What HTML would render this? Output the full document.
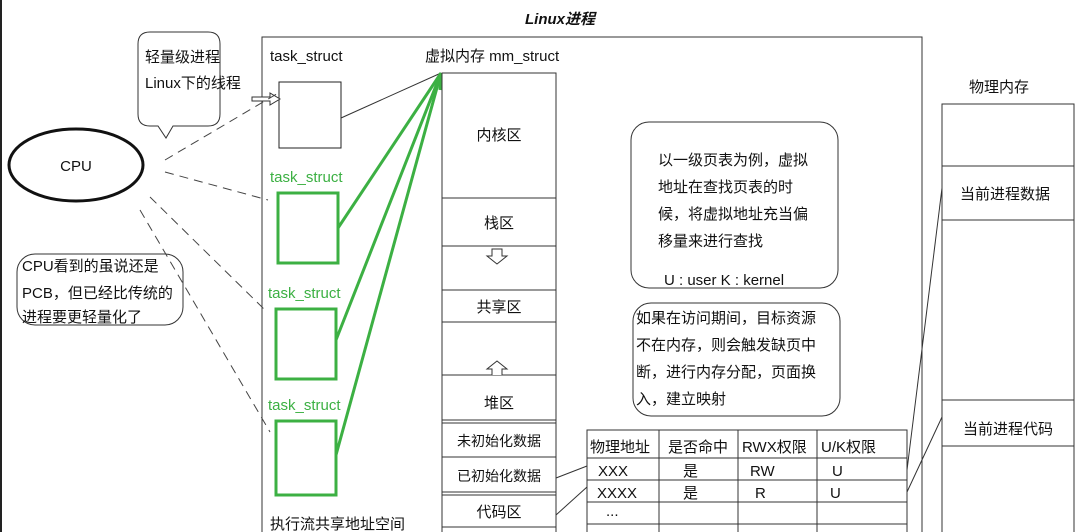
<!DOCTYPE html>
<html><head><meta charset="utf-8"><style>
html,body{margin:0;padding:0;background:#fff;}
svg{display:block;}
text{font-family:"Liberation Sans","Noto Sans CJK SC",sans-serif;font-size:15px;fill:#111;}
.g{fill:#3cb043;}
</style></head><body>
<svg width="1089" height="532" viewBox="0 0 1089 532" xmlns="http://www.w3.org/2000/svg">
<rect x="0" y="0" width="2" height="532" fill="#222"/>
<text x="560" y="24" text-anchor="middle" style="font-weight:bold;font-style:italic;font-size:15px">Linux进程</text>
<!-- main box -->
<rect x="262" y="37" width="660" height="520" fill="none" stroke="#333" stroke-width="1"/>
<text x="270" y="61">task_struct</text>
<text x="425" y="61">虚拟内存 mm_struct</text>
<rect x="279" y="82" width="62" height="66" fill="#fff" stroke="#222"/>
<!-- green task structs -->
<text x="270" y="182" class="g">task_struct</text>
<rect x="278" y="193" width="60" height="70" fill="none" stroke="#3cb043" stroke-width="3"/>
<text x="268" y="298" class="g">task_struct</text>
<rect x="276" y="309" width="60" height="70" fill="none" stroke="#3cb043" stroke-width="3"/>
<text x="268" y="410" class="g">task_struct</text>
<rect x="276" y="421" width="60" height="74" fill="none" stroke="#3cb043" stroke-width="3"/>
<text x="270" y="529">执行流共享地址空间</text>
<!-- lines to mm -->
<line x1="341" y1="118" x2="441" y2="73" stroke="#333"/>
<g stroke="#3cb043" stroke-width="3">
<line x1="338" y1="228" x2="441" y2="73"/>
<line x1="336" y1="340" x2="441" y2="73"/>
<line x1="336" y1="455" x2="441" y2="73"/>
<line x1="440" y1="90" x2="441" y2="73"/>
</g>
<!-- vm column -->
<g stroke="#333" fill="none">
<rect x="442" y="73" width="114" height="470"/>
<line x1="442" y1="198" x2="556" y2="198"/>
<line x1="442" y1="246" x2="556" y2="246"/>
<line x1="442" y1="290" x2="556" y2="290"/>
<line x1="442" y1="322" x2="556" y2="322"/>
<line x1="442" y1="375" x2="556" y2="375"/>
<line x1="442" y1="420" x2="556" y2="420"/>
<line x1="442" y1="423" x2="556" y2="423"/>
<line x1="442" y1="457" x2="556" y2="457"/>
<line x1="442" y1="492" x2="556" y2="492"/>
<line x1="442" y1="495" x2="556" y2="495"/>
<line x1="442" y1="527" x2="556" y2="527"/>
<path d="M492 249 h10 v7 h5 l-10 8 l-10 -8 h5 z" fill="#fff"/>
<path d="M492 375 v-6 h-5 l10 -8 l10 8 h-5 v6" fill="#fff"/>
</g>
<text x="499" y="140" text-anchor="middle">内核区</text>
<text x="499" y="228" text-anchor="middle">栈区</text>
<text x="499" y="312" text-anchor="middle">共享区</text>
<text x="499" y="408" text-anchor="middle">堆区</text>
<text x="499" y="446" text-anchor="middle" style="font-size:14px">未初始化数据</text>
<text x="499" y="481" text-anchor="middle" style="font-size:14px">已初始化数据</text>
<text x="499" y="517" text-anchor="middle">代码区</text>
<!-- round boxes -->
<rect x="631" y="122" width="207" height="166" rx="18" fill="none" stroke="#333"/>
<text x="658" y="165">以一级页表为例，虚拟</text>
<text x="658" y="192">地址在查找页表的时</text>
<text x="658" y="219">候，将虚拟地址充当偏</text>
<text x="658" y="246">移量来进行查找</text>
<text x="664" y="285">U : user  K : kernel</text>
<rect x="633" y="303" width="207" height="113" rx="18" fill="none" stroke="#333"/>
<text x="636" y="323">如果在访问期间，目标资源</text>
<text x="636" y="350">不在内存，则会触发缺页中</text>
<text x="636" y="377">断，进行内存分配，页面换</text>
<text x="636" y="404">入，建立映射</text>
<!-- table -->
<g stroke="#333" fill="none">
<rect x="587" y="430" width="320" height="110"/>
<line x1="587" y1="458" x2="907" y2="458"/>
<line x1="587" y1="480" x2="907" y2="480"/>
<line x1="587" y1="502" x2="907" y2="502"/>
<line x1="587" y1="524" x2="907" y2="524"/>
<line x1="659" y1="430" x2="659" y2="540"/>
<line x1="738" y1="430" x2="738" y2="540"/>
<line x1="817" y1="430" x2="817" y2="540"/>
<line x1="556" y1="478" x2="587" y2="466"/>
<line x1="556" y1="515" x2="587" y2="487"/>
<line x1="907" y1="470" x2="942" y2="188"/>
<line x1="907" y1="492" x2="942" y2="417"/>
</g>
<text x="590" y="452">物理地址</text>
<text x="668" y="452">是否命中</text>
<text x="742" y="452">RWX权限</text>
<text x="821" y="452">U/K权限</text>
<text x="598" y="476">XXX</text><text x="683" y="476">是</text><text x="750" y="476">RW</text><text x="832" y="476">U</text>
<text x="597" y="498">XXXX</text><text x="683" y="498">是</text><text x="755" y="498">R</text><text x="830" y="498">U</text>
<text x="606" y="516">...</text>
<!-- physical memory -->
<text x="999" y="92" text-anchor="middle">物理内存</text>
<g stroke="#333" fill="none">
<rect x="942" y="104" width="132" height="450"/>
<line x1="942" y1="166" x2="1074" y2="166"/>
<line x1="942" y1="220" x2="1074" y2="220"/>
<line x1="942" y1="400" x2="1074" y2="400"/>
<line x1="942" y1="446" x2="1074" y2="446"/>
</g>
<text x="1005" y="199" text-anchor="middle">当前进程数据</text>
<text x="1008" y="434" text-anchor="middle">当前进程代码</text>
<!-- CPU -->
<ellipse cx="76" cy="165" rx="67" ry="36" fill="none" stroke="#111" stroke-width="3"/>
<text x="76" y="171" text-anchor="middle">CPU</text>
<!-- bubble 1 -->
<path d="M150 32 h58 q12 0 12 12 v70 q0 12 -12 12 h-35 l-7 12 l-8 -12 h-8 q-12 0 -12 -12 v-70 q0 -12 12 -12 z" fill="#fff" stroke="#333"/>
<text x="145" y="62">轻量级进程</text>
<text x="145" y="88">Linux下的线程</text>
<path d="M252 97 h18 v-4 l10 6 l-10 6 v-4 h-18 z" fill="#fff" stroke="#333"/>
<!-- bubble 2 -->
<rect x="17" y="254" width="166" height="71" rx="18" fill="#fff" stroke="#333"/>
<text x="22" y="271">CPU看到的虽说还是</text>
<text x="22" y="298">PCB，但已经比传统的</text>
<text x="22" y="325" dy="-3">进程要更轻量化了</text>
<!-- dashed -->
<g stroke="#444" stroke-dasharray="9,6" fill="none">
<line x1="165" y1="160" x2="280" y2="92"/>
<line x1="165" y1="172" x2="268" y2="200"/>
<line x1="150" y1="197" x2="265" y2="310"/>
<line x1="140" y1="210" x2="270" y2="432"/>
</g>
</svg>
</body></html>
